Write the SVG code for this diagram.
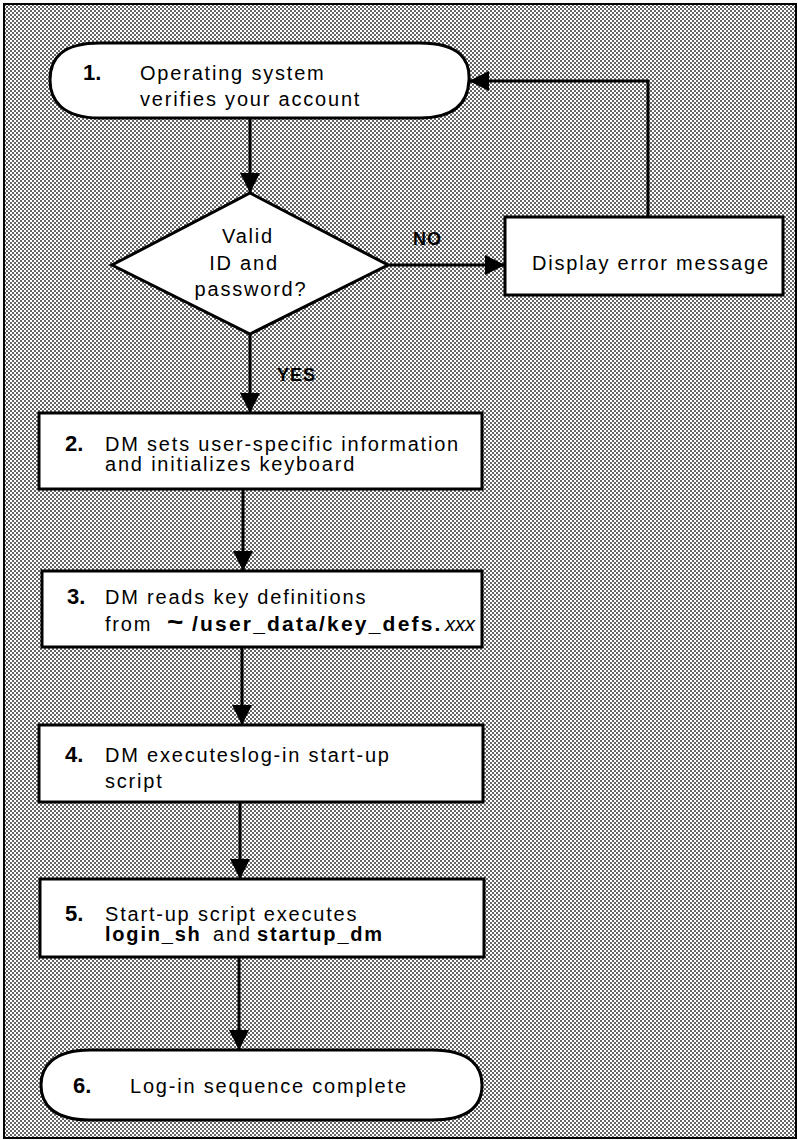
<svg xmlns="http://www.w3.org/2000/svg" width="798" height="1140" viewBox="0 0 798 1140">
<style>
.t{font-family:"Liberation Sans",Arial,sans-serif;font-size:20px;letter-spacing:1.8px;fill:#000}
.n{font-family:"Liberation Sans",Arial,sans-serif;font-size:22px;font-weight:bold;fill:#000}
.b{font-weight:bold}
.lbl{font-family:"Liberation Sans",Arial,sans-serif;font-size:18px;font-weight:bold;letter-spacing:1px;fill:#000}
.shape{fill:#fff;stroke:#000;stroke-width:3}
.edge{fill:none;stroke:#000;stroke-width:3}
</style>
<defs>
<pattern id="dots" patternUnits="userSpaceOnUse" width="4" height="4">
<rect width="4" height="4" fill="#fff"/>
<rect x="0" y="0" width="2" height="2" fill="#666"/>
<rect x="2" y="2" width="2" height="2" fill="#666"/>
</pattern>
<marker id="arr" markerUnits="userSpaceOnUse" markerWidth="22" markerHeight="22" refX="20" refY="10" orient="auto">
<path d="M0,0 L20,10 L0,20 Z" fill="#000"/>
</marker>
</defs>
<rect x="4" y="4" width="792" height="1134" fill="url(#dots)" stroke="#000" stroke-width="2"/>

<g id="connectors">
<line class="edge" x1="250" y1="118" x2="250" y2="193" marker-end="url(#arr)"/>
<line class="edge" x1="388" y1="265" x2="505" y2="265" marker-end="url(#arr)"/>
<polyline class="edge" points="648,217 648,81 469,81" marker-end="url(#arr)"/>
<line class="edge" x1="250" y1="334" x2="250" y2="413" marker-end="url(#arr)"/>
<line class="edge" x1="243" y1="489" x2="243" y2="571" marker-end="url(#arr)"/>
<line class="edge" x1="242" y1="647" x2="242" y2="725" marker-end="url(#arr)"/>
<line class="edge" x1="240" y1="802" x2="240" y2="879" marker-end="url(#arr)"/>
<line class="edge" x1="239" y1="957" x2="239" y2="1050" marker-end="url(#arr)"/>
<text class="lbl" x="413" y="245">NO</text>
<text class="lbl" x="277" y="381">YES</text>
</g>

<g id="n1">
<path class="shape" d="M100,43 L420,43 C460,43 470,60 469,80 C468,102 455,118 420,118 L100,118 C62,118 50,100 50,80 C50,58 62,43 100,43 Z"/>
<text class="n" x="83" y="80">1.</text>
<text class="t" x="140" y="80">Operating system</text>
<text class="t" x="140" y="106">verifies your account</text>
</g>

<g id="decision">
<polygon class="shape" points="250,193 388,265 250,334 112,265"/>
<text class="t" x="248" y="243" text-anchor="middle">Valid</text>
<text class="t" x="244" y="270" text-anchor="middle">ID and</text>
<text class="t" x="251" y="296" text-anchor="middle">password?</text>
</g>

<g id="error">
<rect class="shape" x="505" y="217" width="278" height="78"/>
<text class="t" x="532" y="270">Display error message</text>
</g>

<g id="n2">
<rect class="shape" x="39" y="413" width="443" height="76"/>
<text class="n" x="65" y="451">2.</text>
<text class="t" x="105" y="451">DM sets user-specific information</text>
<text class="t" x="105" y="471">and initializes keyboard</text>
</g>

<g id="n3">
<rect class="shape" x="42" y="571" width="440" height="76"/>
<text class="n" x="67" y="604">3.</text>
<text class="t" x="105" y="604">DM reads key definitions</text>
<text class="t" x="105" y="631">from <tspan x="167" y="631" font-size="28" font-weight="bold" letter-spacing="0">~</tspan><tspan class="b" x="192" y="631" font-size="21" letter-spacing="2.2">/user_data/key_defs.</tspan><tspan x="445" y="631" font-style="italic" letter-spacing="0">xxx</tspan></text>
</g>

<g id="n4">
<rect class="shape" x="39" y="725" width="444" height="77"/>
<text class="n" x="65" y="762">4.</text>
<text class="t" x="105" y="762">DM executeslog-in start-up</text>
<text class="t" x="105" y="788">script</text>
</g>

<g id="n5">
<rect class="shape" x="40" y="879" width="444" height="78"/>
<text class="n" x="65" y="921">5.</text>
<text class="t" x="105" y="921">Start-up script executes</text>
<text class="t" x="105" y="941"><tspan class="b">login_sh</tspan><tspan x="213">and</tspan><tspan class="b" x="257">startup_dm</tspan></text>
</g>

<g id="n6">
<path class="shape" d="M90,1050 L432,1050 C472,1050 482,1068 482,1085 C482,1103 472,1120 432,1120 L90,1120 C52,1120 41,1103 41,1085 C41,1068 52,1050 90,1050 Z"/>
<text class="n" x="73" y="1093">6.</text>
<text class="t" x="130" y="1093">Log-in sequence complete</text>
</g>
</svg>
